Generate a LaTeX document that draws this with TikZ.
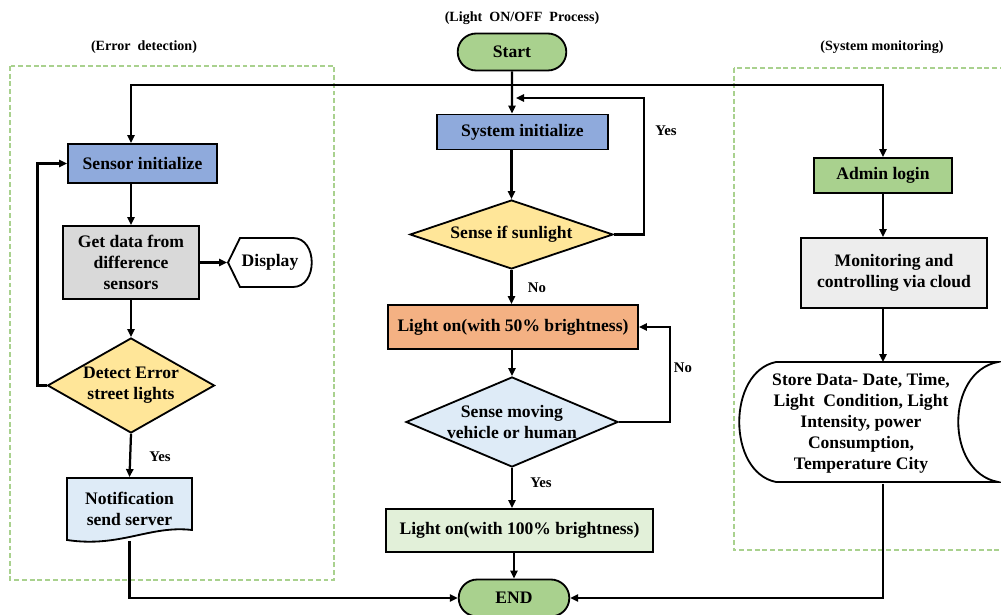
\documentclass[tikz,border=0pt]{standalone}
\usepackage{fontspec}
\setmainfont{Liberation Serif}
\usetikzlibrary{positioning,shapes.geometric,shapes.misc,arrows.meta,calc}
\definecolor{sblue}{HTML}{8FAADC}
\definecolor{dyellow}{HTML}{FFE699}
\definecolor{lorange}{HTML}{F4B183}
\definecolor{pblue}{HTML}{DEEBF7}
\definecolor{pgreen}{HTML}{E2F0D9}
\definecolor{tgreen}{HTML}{A9D18E}
\definecolor{dgray}{HTML}{D9D9D9}
\definecolor{lgray}{HTML}{EDEDED}
\definecolor{grpline}{HTML}{A9D18E}
\newdimen\pxu \pxu=0.025cm

\begin{document}
\begin{tikzpicture}[x=0.025cm,y=-0.025cm,line width=1.3pt,
  font=\fontsize{12.5}{15}\selectfont\bfseries,
  b/.style={draw,inner sep=2pt,align=center},
  term/.style={draw,rounded rectangle,fill=tgreen,minimum width=118\pxu,minimum height=37\pxu},
  dia/.style={draw,diamond,inner sep=0pt},
  txt/.style={align=center,inner sep=0pt},
  lbl/.style={font=\fontsize{10.5}{12}\selectfont\bfseries},
  ttl/.style={font=\fontsize{10}{12}\selectfont\bfseries},
  grp/.style={draw=grpline,line width=0.8pt,dash pattern=on 3.5pt off 2pt},
  arr/.style={-{Triangle[length=2mm,width=1.8mm]},line width=1.6pt},
  ln/.style={line width=1.6pt}]
  \clip (0,0) rectangle (1001,615);

  % groups
  \draw[grp] (10,66) rectangle (334,580);
  \draw[grp] (734,68) rectangle (1010,550);
  \node[ttl] (ttlerr) at (144,47) {(Error\ \ detection)};
  \node[ttl] (ttllight) at (522,18) {(Light\ \ ON/OFF\ \ Process)};
  \node[ttl] (ttlsys) at (882,47) {(System monitoring)};

  % light on/off process
  \node[term] (start) at (512,52) {Start};
  \node[b,fill=sblue,minimum width=171\pxu,minimum height=35\pxu] (sysinit) at (522.5,132) {System initialize};
  \node[dia,fill=dyellow,minimum width=203\pxu,minimum height=69\pxu] (sun) at (511.5,234.5) {};
  \node[txt] (suntxt) at (sun) {Sense if sunlight};
  \node[b,fill=lorange,minimum width=250\pxu,minimum height=44\pxu] (l50) at (513,327) {Light on(with 50\% brightness)};
  \node[dia,fill=pblue,minimum width=212\pxu,minimum height=90\pxu] (move) at (512,422) {};
  \node[txt] (movetxt) at (move) {Sense moving\\vehicle or human};
  \node[b,fill=pgreen,minimum width=267\pxu,minimum height=43\pxu] (l100) at (519.5,530.5) {Light on(with 100\% brightness)};
  \node[term,minimum width=120\pxu] (endn) at (514,598) {END};
  \coordinate (jn) at (512,85);
  \coordinate (sunret) at (516,98);

  % error detection
  \node[b,fill=sblue,minimum width=149\pxu,minimum height=39\pxu] (sensinit) at (142.5,163.5) {Sensor initialize};
  \node[b,fill=dgray,minimum width=136\pxu,minimum height=73\pxu] (getdata) at (131,262.5) {Get data from\\difference\\sensors};
  \draw[fill=white] (228,262.5) -- (240,238) -- (293,238) .. controls (318,238) and (318,287) .. (293,287) -- (240,287) -- cycle;
  \node[txt,minimum width=84\pxu,minimum height=49\pxu] (display) at (270,262.5) {Display};
  \node[dia,fill=dyellow,minimum width=167\pxu,minimum height=95\pxu] (detect) at (131,385.5) {};
  \node[txt] (detecttxt) at (detect) {Detect Error\\street lights};
  \draw[fill=pblue] (67,478) -- (192,478) -- (192,530) .. controls (150,525) and (120,548) .. (67,540) -- cycle;
  \node[txt,minimum width=125\pxu,minimum height=62\pxu] (notif) at (129.5,509) {Notification\\send server};

  % system monitoring
  \node[b,fill=tgreen,minimum width=138\pxu,minimum height=35\pxu] (admin) at (883,175.5) {Admin login};
  \node[b,fill=lgray,minimum width=186\pxu,minimum height=70\pxu] (monit) at (894,273) {Monitoring and\\controlling via cloud};
  \draw[fill=white] (776,362) -- (998,362) .. controls (945,372) and (945,472) .. (998,482) -- (776,482) .. controls (727,472) and (727,372) .. (776,362) -- cycle;
  \node[txt,minimum width=258\pxu,minimum height=120\pxu] (store) at (861,423) {Store Data- Date, Time,\\Light\ \ Condition, Light\\Intensity, power\\Consumption,\\Temperature City};

  % connectors
  \draw[arr] (start) -- (start |- sysinit.north);
  \draw[arr] (jn) -| (sensinit.north -| getdata);
  \draw[arr] (jn) -| (admin);
  \draw[arr] (sun.north |- sysinit.south) -- (sun.north);
  \draw[arr] (sun.east) -- ++(30,0) |- (sunret);
  \node[lbl] (yes1) at (666,131) {Yes};
  \draw[arr] (sun.south) -- (sun.south |- l50.north);
  \node[lbl] (no1) at (537,288) {No};
  \draw[arr] (move.north |- l50.south) -- (move.north);
  \draw[arr] (move.east) -- ++(51,0) |- (l50.east);
  \node[lbl] (no2) at (683,368) {No};
  \draw[arr] (move.south) -- (move.south |- l100.north);
  \node[lbl] (yes2) at (541,483) {Yes};
  \draw[arr] (l100.south -| endn.north) -- (endn.north);

  \draw[arr] (sensinit.south -| getdata) -- (getdata.north);
  \draw[arr] (getdata.east) -- (display.west);
  \draw[arr] (getdata.south) -- (detect.north);
  \draw[arr] (detect.west) -- ++(-9,0) |- (sensinit.west);
  \draw[arr] (detect.south) -- (notif.north);
  \node[lbl] (yes3) at (160,457) {Yes};
  \draw[arr] (notif.south) |- (endn.west);

  \draw[arr] (admin.south) -- (admin.south |- monit.north);
  \draw[arr] (monit.south -| admin) -- (store.north -| admin);
  \draw[arr] (store.south -| admin) |- (endn.east);
\end{tikzpicture}
\end{document}
